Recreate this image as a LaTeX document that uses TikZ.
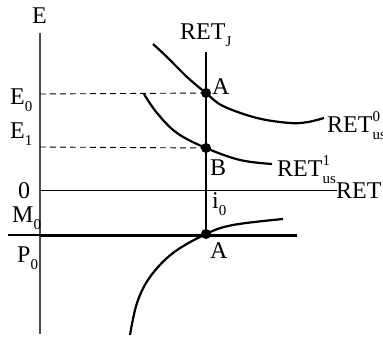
\documentclass[tikz,border=0pt]{standalone}
\usepackage{fontspec}
\setmainfont{Liberation Serif}
\newcommand{\lsub}[1]{\raisebox{-7pt}{\fontsize{15}{15}\selectfont #1}}
\newcommand{\lsup}[1]{\raisebox{11pt}{\fontsize{15}{15}\selectfont #1}}
\tikzset{
  lbl/.style={anchor=base west, inner sep=0pt, font=\fontsize{24}{28}\selectfont},
  dot/.style={circle, fill=black, inner sep=0pt, minimum size=10pt},
  curve/.style={line width=2.2pt},
  dashline/.style={line width=0.9pt, dash pattern=on 6pt off 4pt},
  axisline/.style={line width=2pt, draw=black!70},
}
\begin{document}
\begin{tikzpicture}[x=1pt,y=-1pt]
\useasboundingbox (0,0) rectangle (383,337);
% axis
\coordinate (axtop) at (40,33);
\coordinate (axbot) at (40,334);
\draw[axisline] (axtop) -- (axbot);
% points
\node[dot] (A) at (206,93) {};
\node[dot] (B) at (206,148) {};
\node[dot] (A2) at (206,234) {};
\coordinate (jtop) at (206,52);
\coordinate (e0) at (40,94);
\coordinate (e1) at (40,147);
\coordinate (zl) at (40,190.5);
\coordinate (zr) at (337,190.5);
\coordinate (ml) at (8,235);
\coordinate (mm) at (40,235);
\coordinate (mr) at (297,235);
% lines
\draw[line width=1pt] (zl) -- (zr);
\draw[line width=1.2pt] (ml) -- (mm);
\draw[line width=3pt] (mm) -- (mr);
\draw[dashline] (e0) -- (A.center);
\draw[dashline] (e1) -- (B.center);
\draw[line width=2.4pt] (jtop) -- (A2.center);
% curves
\draw[curve] plot[smooth, tension=0.6] coordinates {(153,44) (167,57) (187,77) (206,93) (223,106) (257,118) (290,123) (308,122) (324,118)};
\draw[curve] plot[smooth, tension=0.6] coordinates {(144,94) (157,113) (177,133) (206,148) (240,160) (272,164)};
\draw[curve] plot[smooth, tension=0.6] coordinates {(130,335) (137,303) (150,277) (173,253) (206,234) (233,225) (283,219)};
% labels
\node[lbl] (lE) at (32,24) {E};
\node[lbl] (lE0) at (10,104) {E\lsub{0}};
\node[lbl] (lE1) at (10,138) {E\lsub{1}};
\node[lbl] (l0) at (18,198) {0};
\node[lbl] (lM0) at (12,222) {M\lsub{0}};
\node[lbl] (lP0) at (17,262) {P\lsub{0}};
\node[lbl] (lRJ) at (180,40) {RET\lsub{J}};
\node[lbl] (lA) at (212,95) {A};
\node[lbl] (lB) at (210,175) {B};
\node[lbl] (li0) at (212,208) {i\lsub{0}};
\node[lbl] (lA2) at (210,258) {A};
\node[lbl] (lR0) at (327,132) {RET\rlap{\lsup{0}}\lsub{us}};
\node[lbl] (lR1) at (277,176) {RET\rlap{\lsup{1}}\lsub{us}};
\node[lbl] (lR) at (336,198) {RET};
\end{tikzpicture}
\end{document}
